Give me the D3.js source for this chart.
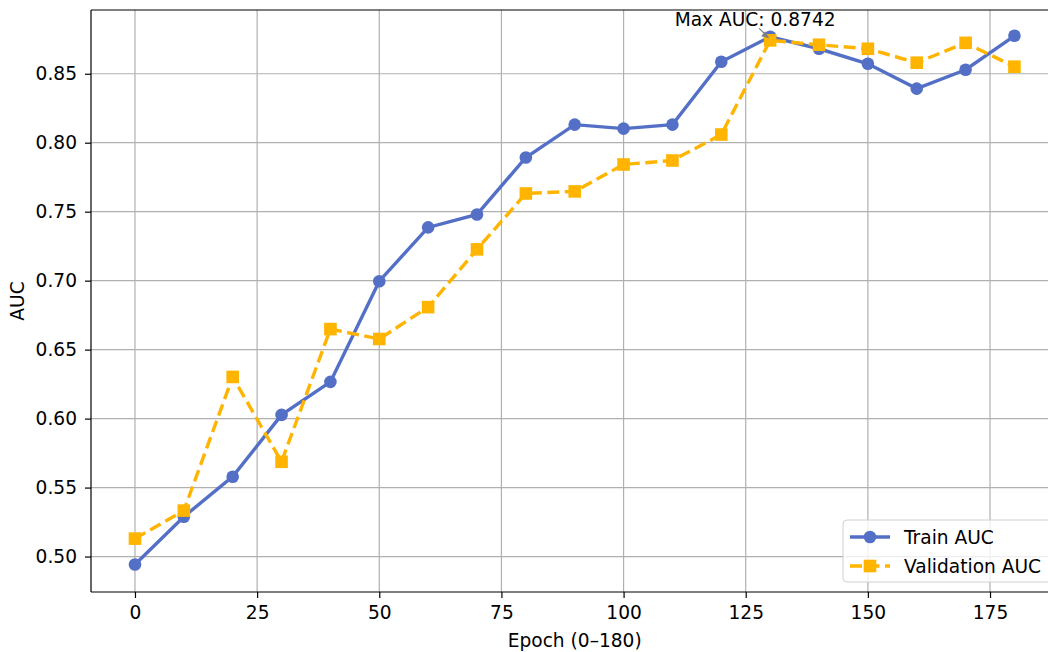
<!DOCTYPE html>
<html><head><meta charset="utf-8">
<script src="https://cdn.jsdelivr.net/npm/d3@7"></script>
<style>body{margin:0;background:#fff;} svg{display:block;font-family:"DejaVu Sans",sans-serif;}</style>
</head><body>
<svg id="c" width="1048" height="652"></svg>
<script>
const epochs = [0,10,20,30,40,50,60,70,80,90,100,110,120,130,140,150,160,170,180];
const trainAUC = [0.4942,0.5289,0.5579,0.6027,0.6266,0.6996,0.7386,0.7480,0.7893,0.8131,0.8102,0.8131,0.8587,0.8768,0.8681,0.8572,0.8392,0.8529,0.8775];
const valAUC = [0.5130,0.5333,0.6302,0.5687,0.6649,0.6577,0.6808,0.7227,0.7632,0.7647,0.7842,0.7871,0.8059,0.8742,0.8710,0.8681,0.8580,0.8724,0.8551];
const xTicks = [0,25,50,75,100,125,150,175];
const yTicks = [0.50,0.55,0.60,0.65,0.70,0.75,0.80,0.85];
const seriesNames = ["Train AUC","Validation AUC"];

const svg = d3.select("#c");
const L=91, T=10, B=592, FS=18.6;
const x = d3.scaleLinear().domain([-9,189]).range([L, L+198*4.886]);
const y = d3.scaleLinear().domain([0.4743,0.8962]).range([B,T]);
const blue="#5470c6", orange="#ffb400";

// grid
const g = svg.append("g");
g.selectAll(".gx").data(xTicks).join("line").attr("x1",d=>x(d)).attr("x2",d=>x(d)).attr("y1",T).attr("y2",B).attr("stroke","#b0b0b0").attr("stroke-width",1.2);
g.selectAll(".gy").data(yTicks).join("line").attr("x1",L).attr("x2",1048).attr("y1",d=>y(d)).attr("y2",d=>y(d)).attr("stroke","#b0b0b0").attr("stroke-width",1.2);

// axes
const xa = svg.append("g").attr("transform",`translate(0,${B})`).call(d3.axisBottom(x).tickValues(xTicks).tickSize(6).tickPadding(8).tickFormat(d3.format("d")));
const ya = svg.append("g").attr("transform",`translate(${L},0)`).call(d3.axisLeft(y).tickValues(yTicks).tickSize(6).tickPadding(8).tickFormat(d3.format(".2f")));
[xa,ya].forEach(a=>{a.attr("font-size",FS).attr("font-family","DejaVu Sans");a.select(".domain").remove();a.selectAll("text").attr("fill","#000");a.selectAll("line").attr("stroke","#000").attr("stroke-width",1.2);});
// spines
svg.append("line").attr("x1",L).attr("x2",L).attr("y1",T).attr("y2",B).attr("stroke","#000").attr("stroke-width",1.2);
svg.append("line").attr("x1",L).attr("x2",1048).attr("y1",B).attr("y2",B).attr("stroke","#000").attr("stroke-width",1.2);
svg.append("line").attr("x1",L).attr("x2",1048).attr("y1",T).attr("y2",T).attr("stroke","#000").attr("stroke-width",1.2);

// labels
svg.append("text").attr("x",x(90)).attr("y",647).attr("text-anchor","middle").attr("font-size",FS).text("Epoch (0–180)");
svg.append("text").attr("transform",`translate(24,${(T+B)/2}) rotate(-90)`).attr("text-anchor","middle").attr("font-size",FS).text("AUC");

const line = d3.line().x((d,i)=>x(epochs[i])).y(d=>y(d));
svg.append("path").datum(trainAUC).attr("d",line).attr("fill","none").attr("stroke",blue).attr("stroke-width",3.4);
svg.selectAll(".tp").data(trainAUC).join("circle").attr("cx",(d,i)=>x(epochs[i])).attr("cy",d=>y(d)).attr("r",6.3).attr("fill",blue);
svg.append("path").datum(valAUC).attr("d",line).attr("fill","none").attr("stroke",orange).attr("stroke-width",3.4).attr("stroke-dasharray","12,5.5");
svg.selectAll(".vp").data(valAUC).join("rect").attr("x",(d,i)=>x(epochs[i])-6.3).attr("y",d=>y(d)-6.3).attr("width",12.6).attr("height",12.6).attr("fill",orange);

// annotation
const mi = valAUC.indexOf(d3.max(valAUC));
const px=x(epochs[mi]), py=y(valAUC[mi]);
svg.append("line").attr("x1",px-11).attr("y1",py-12).attr("x2",px-2).attr("y2",py-3).attr("stroke","#808080").attr("stroke-width",1.3);
svg.append("path").attr("d",`M${px-1},${py-2} L${px-9},${py-4} L${px-5},${py-9} Z`).attr("fill","#808080");
svg.append("text").attr("x",px-15).attr("y",26).attr("text-anchor","middle").attr("font-size",FS).text("Max AUC: "+valAUC[mi].toFixed(4));

// legend
const lg = svg.append("g").attr("transform","translate(843,520)");
lg.append("rect").attr("width",215).attr("height",62).attr("rx",4).attr("fill","#fff").attr("fill-opacity",0.8).attr("stroke","#d0d0d0");
const cols=[blue,orange];
seriesNames.forEach((n,i)=>{
  const yy=17+i*29;
  const r=lg.append("g");
  r.append("line").attr("x1",7).attr("x2",47).attr("y1",yy).attr("y2",yy).attr("stroke",cols[i]).attr("stroke-width",3.4).attr("stroke-dasharray",i?"12,5.5":null);
  if(i==0) r.append("circle").attr("cx",27).attr("cy",yy).attr("r",6.3).attr("fill",blue);
  else r.append("rect").attr("x",20.7).attr("y",yy-6.3).attr("width",12.6).attr("height",12.6).attr("fill",orange);
  r.append("text").attr("x",61).attr("y",yy+6.5).attr("font-size",FS).text(n);
});
</script>
</body></html>
